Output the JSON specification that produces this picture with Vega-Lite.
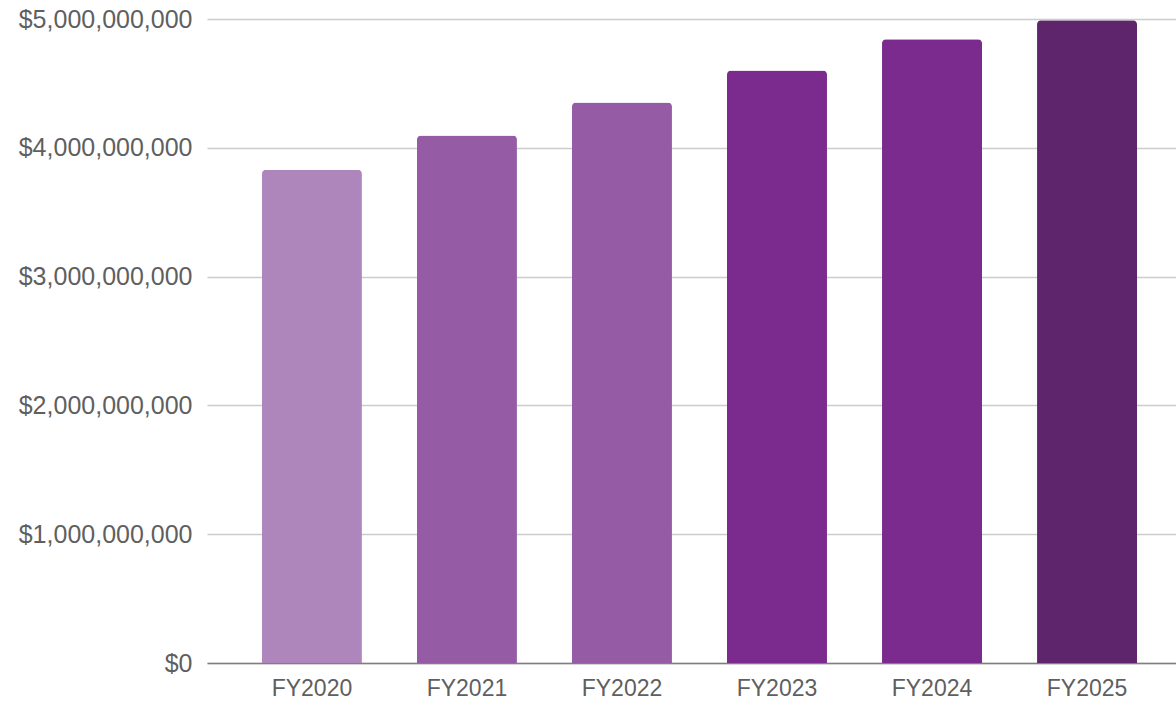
{
  "$schema": "https://vega.github.io/schema/vega-lite/v6.json",
  "autosize": {"type": "none"},
  "padding": {"left": 207, "top": 19, "right": 0, "bottom": 39},
  "width": 969,
  "height": 644,
  "background": "white",
  "config": {"view": {"stroke": null}},
  "data": {"values": [
    {"year": "FY2020", "amount": 3830000000, "c": "#AE86BC"},
    {"year": "FY2021", "amount": 4095000000, "c": "#955CA5"},
    {"year": "FY2022", "amount": 4352000000, "c": "#955CA5"},
    {"year": "FY2023", "amount": 4600000000, "c": "#7B2A8E"},
    {"year": "FY2024", "amount": 4842000000, "c": "#7B2A8E"},
    {"year": "FY2025", "amount": 4990000000, "c": "#5E256C"}
  ]},
  "mark": {"type": "bar", "cornerRadiusTopLeft": 4, "cornerRadiusTopRight": 4},
  "encoding": {
    "x": {
      "field": "year", "type": "nominal", "sort": null,
      "scale": {"paddingInner": 0.355, "paddingOuter": 0.303, "align": 0.585},
      "axis": {
        "title": null, "labelAngle": 0, "ticks": false,
        "labelFont": "Liberation Sans", "labelFontSize": 23, "labelColor": "#5f5f5f",
        "labelPadding": 14, "domainColor": "#7f7f7f", "domainWidth": 1.5, "grid": false
      }
    },
    "y": {
      "field": "amount", "type": "quantitative",
      "scale": {"domain": [0, 5000000000], "nice": false},
      "axis": {
        "title": null, "values": [0, 1000000000, 2000000000, 3000000000, 4000000000, 5000000000],
        "format": "$,.0f", "ticks": false, "domain": false,
        "labelFont": "Liberation Sans", "labelFontSize": 25, "labelColor": "#5f5f5f",
        "labelPadding": 15, "gridColor": "#cccccc", "gridWidth": 1.5
      }
    },
    "color": {"field": "c", "type": "nominal", "scale": null, "legend": null}
  }
}
